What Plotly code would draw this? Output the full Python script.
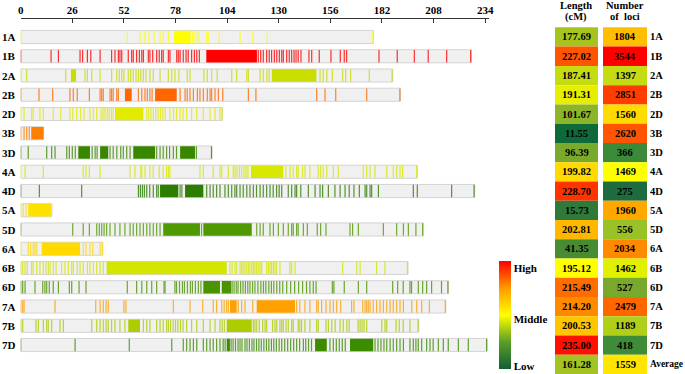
import plotly.graph_objects as go

# ---------------- data ----------------
chromosomes = ["1A", "1B", "2A", "2B", "2D", "3B", "3D", "4A", "4D", "5A",
               "5D", "6A", "6B", "6D", "7A", "7B", "7D"]
lengths_cM = [177.69, 227.02, 187.41, 191.31, 101.67, 11.55, 96.39, 199.82, 228.70,
              15.73, 202.81, 41.35, 195.12, 215.49, 214.20, 200.53, 235.00]
loci_counts = [1804, 3544, 1397, 2851, 1560, 2620, 366, 1469, 275, 1960, 556,
               2034, 1462, 527, 2479, 1189, 418]
average_length = 161.28
average_loci = 1559
x_ticks = [0, 26, 52, 78, 104, 130, 156, 182, 208, 234]

# individual loci positions (cM) and dense blocks (start, end) per chromosome
loci_1A = [0, 53.7, 60.1, 62.6, 64.6, 67.2, 70.2, 71.8, 74.4, 86.6, 87.8, 89, 89.8, 93.7,
           94.5, 100, 110.5, 117, 124.2, 177.4]
blocks_1A = [(77.3, 85.6)]
loci_1B = [0, 15.3, 19, 29.9, 31.2, 33.6, 35.3, 40, 45.8, 47.5, 49.2, 50, 50.9, 54.2, 55.9,
           56.7, 58.4, 59.8, 61, 61.8, 64.3, 65.1, 66.5, 68.5, 69.8, 71, 71.8, 74.4, 75.2,
           78.6, 79.4, 80.3, 81.9, 83.3, 84.4, 86.1, 87.5, 88.7, 90, 119.7, 120.9, 122.2,
           123.9, 125.2, 126.4, 127.8, 129, 130.3, 131.5, 132.3, 134, 135.3, 136.5, 137.7,
           138.7, 139.8, 141.2, 145.2, 146.6, 150.4, 156.3, 161, 163, 164.2, 180.5, 189.7,
           198.3, 205.3, 214.6, 226.7]
blocks_1B = [(93.5, 119)]
loci_2A = [0, 3, 22.7, 32.4, 33.6, 35.8, 40, 45.8, 48.4, 49.7, 50.9, 52, 54.2, 55.4, 56.7,
           58.1, 59.3, 60.5, 61.8, 63.1, 65.1, 66.8, 70.2, 74.4, 76.1, 77.7, 79.7, 83.9, 85.3,
           92.3, 94, 96.2, 99, 106.3, 108.8, 113.9, 114.7, 120.6, 122.2, 124, 125.2, 150.8,
           152.4, 154.2, 157, 162.2, 163.7, 166.2, 175.6, 187.1]
blocks_2A = [(25.3, 27.9), (126.5, 149)]
loci_2B = [0, 9.2, 16.1, 24.8, 26.5, 28.5, 34.6, 40, 40.8, 41.6, 45, 45.8, 46.6, 48.4, 49.2,
           59.3, 61, 62.6, 63.8, 65.1, 66.2, 80.3, 82.8, 83.9, 85.3, 87, 89, 90.3, 92, 94,
           95.4, 96.2, 97.9, 99.6, 101.8, 114.7, 118.5, 149.1, 153.3, 158.7, 174.3, 191]
blocks_2B = [(52.5, 55.9), (67.7, 78.6)]
loci_2D = [0, 1.7, 5.5, 6.3, 9.7, 11.4, 16.4, 20.2, 24.8, 26.2, 28.2, 30.2, 31.9, 34.9, 36.6,
           38.3, 40.5, 41.5, 42.5, 43.6, 44.6, 45.7, 46.6, 63.5, 64.5, 65.6, 66.8, 68, 69.2,
           70.4, 71.6, 72.8, 75.2, 77, 78.5, 80.3, 81.8, 83.6, 86.1, 88.7, 92, 95.4, 97.9,
           100.4, 101.4]
blocks_2D = [(47.5, 61.8)]
loci_3B = [0, 1.7, 3, 4.3]
blocks_3B = [(5.3, 11.55)]
loci_3D = [0, 3.8, 13.1, 15.6, 17.3, 23.2, 24.5, 26, 27.5, 36, 37.5, 38.5, 45, 46.6, 48.4,
           50.4, 51.7, 53.4, 55.1, 68.5, 70.2, 71.8, 73.5, 75, 76.9, 78.5, 88.5, 96.1]
blocks_3D = [(29, 34.9), (40, 44.1), (56.7, 67.7), (80.3, 87.8)]
loci_4A = [0, 2.2, 11.4, 31.5, 32.9, 34.6, 40, 55.1, 57.6, 60.5, 61, 62.6, 65.1, 66.8, 69.8,
           71.8, 73.5, 74.4, 75.2, 90.3, 92, 97, 100.4, 101.3, 104.6, 107.1, 108, 109, 110.2,
           111.3, 112.5, 113.5, 114.5, 133.6, 135.7, 137.3, 139, 139.8, 142, 143.2, 145.7,
           149.9, 151.1, 152.4, 154.2, 157.5, 160, 172.6, 174.3, 176, 178.5, 184.4, 187.7,
           189.4, 191.1, 192.4, 199.5]
blocks_4A = [(116, 132.3)]
loci_4D = [0, 9.4, 30.7, 59.3, 60.3, 61.3, 62.3, 63.5, 65, 66.8, 68.5, 69.3, 80.3, 81.2, 93.7,
           95.4, 97, 98.7, 100.4, 102.9, 104.6, 106.3, 107.9, 108.8, 110.5, 112.1, 113.9,
           115.5, 117.2, 118.8, 120.6, 122.2, 123.9, 125.6, 127.2, 128.9, 130.2, 131.5, 134.8,
           136.5, 138.2, 139, 141.1, 144.9, 148.3, 150.8, 152.1, 155, 158.3, 160.9, 163.4,
           165.5, 167.9, 170.6, 173.5, 174.3, 176, 176.8, 180.2, 197.8, 199.8, 217.1, 228.4]
blocks_4D = [(70.2, 79.4), (82.8, 92)]
loci_5A = [0, 1.3, 2.7]
blocks_5A = [(3.8, 15.4)]
loci_5D = [0, 26.2, 31.5, 34.6, 38.3, 39.6, 40.8, 42, 43.3, 45, 47.5, 50, 52.5, 55.1, 56.7,
           58.4, 60.1, 61.8, 63.5, 65.1, 66.8, 68.5, 70.2, 91.1, 118.9, 120.6, 122.2, 125.6,
           127.3, 129.8, 132.3, 134.8, 136.5, 137.3, 139, 139.8, 142.4, 144.4, 149.4, 151.1,
           153.8, 165.9, 167.2, 170.1, 182.7, 189.4, 192.8, 195.3, 199.1, 202.5]
blocks_5D = [(71.8, 90.3), (92, 116.4)]
loci_6A = [0, 3.8, 5, 6.3, 7.2, 8.1, 31.5, 32.9, 34.9, 36.3, 40, 41.1]
blocks_6A = [(10.6, 29.9)]
loci_6B = [0, 1, 2.2, 3.3, 5.5, 6.3, 8.1, 9.7, 11.4, 12.7, 13.9, 14.8, 16.4, 17.8, 20.6, 22.3,
           24, 25.7, 26.5, 28.5, 29.9, 31.5, 33.6, 34.9, 36.6, 38.3, 40, 41.6, 105.4, 106.5,
           107.9, 108.8, 110.5, 111.3, 112.1, 113, 113.9, 114.7, 115.5, 116.4, 117.2, 118,
           118.8, 119.7, 120.6, 121.4, 123.9, 124.8, 125.6, 126.4, 127.3, 128.1, 128.9,
           130.6, 135.6, 136.5, 138.2, 162.2, 169.3, 171, 179.3, 183.5, 194.8]
blocks_6B = [(43.3, 103.8)]
loci_6D = [0, 1, 2.2, 7.2, 11.1, 12.2, 13.1, 14.4, 16.4, 19, 24.5, 25.7, 29.4, 32.9, 53.7,
           58.4, 61, 63.5, 66, 68.5, 72.2, 72.7, 77.7, 78.5, 80, 81.5, 82.5, 84, 85.5, 86.5,
           88, 89.5, 90.8, 106.5, 107.5, 108.6, 109.5, 110.8, 112, 113.2, 114.4, 115.5, 116.8,
           118, 119.5, 121, 122.3, 123.5, 125, 126.3, 127.5, 129, 130.5, 132, 134, 136, 138,
           140, 142, 144, 145.7, 147.4, 148.8, 157, 157.8, 163, 170.1, 174.3, 187.4, 189.9,
           192.7, 196.1, 196.9, 200.3, 202.5, 204.5, 207, 212, 215.2]
blocks_6D = [(92, 100.4), (101.3, 106)]
loci_7A = [0, 1, 1.7, 17.3, 37.8, 40, 41.6, 43, 44.1, 52, 53, 76.9, 85.3, 91.7, 97, 98.7,
           101.3, 102.5, 103.7, 104.6, 109.6, 111.3, 113, 116.9, 139, 140.6, 143.2, 145.7,
           149.1, 149.9, 151.6, 153.8, 155.8, 157.5, 159.2, 161.2, 166.7, 167.9, 172.3, 173.5,
           174.3, 175.1, 176, 177.6, 179.3, 181, 182.7, 184.4, 186.1, 187.7, 189.4, 191.1,
           192.8, 197, 199.5, 202, 205.9, 213.9]
blocks_7A = [(105.4, 108.8), (118.9, 138.2)]
loci_7B = [0, 1, 7.7, 8.9, 11.4, 13.1, 13.9, 15.6, 19.8, 21.5, 35.8, 38.3, 40, 41.6, 43, 44.1,
           45.8, 47.5, 50, 52.5, 61.8, 63.5, 65.1, 68.5, 70.2, 71.8, 73.5, 74.4, 75.5, 76.8,
           78, 79.2, 80.5, 81.8, 83.6, 86.1, 88.7, 92, 95.4, 97.9, 100.4, 101.5, 102.6, 117.2,
           118, 118.9, 120.2, 121.9, 123.1, 123.9, 126.9, 128.1, 129, 130.6, 131.5, 132.3,
           133.7, 134.8, 136.5, 137.3, 139.8, 140.6, 141.5, 143.2, 145.7, 149.1, 149.9, 153.8,
           155, 156.7, 158.4, 160.9, 162.5, 164.3, 165.5, 170, 171, 172, 173, 174.3, 181.9,
           183.5, 184.4, 189.1, 190.7, 192.7, 196.1, 200.2]
blocks_7B = [(54.2, 60.1), (103.8, 116.4)]
loci_7D = [0, 27.4, 54.7, 76.1, 81.9, 83.6, 85.3, 87, 88.7, 92, 93.7, 95.4, 97, 98.7, 100.4,
           102, 103, 106, 107, 108.2, 109.5, 110.5, 111.5, 113, 114, 115.2, 116.5, 117.5,
           118.8, 120, 121.2, 122.5, 123.8, 125, 126.3, 127.5, 128.8, 130.2, 131.5, 133,
           134.5, 136, 137.5, 139, 140.5, 142.4, 143.6, 145, 146.5, 155.8, 157.5, 159, 160.5,
           162, 163.5, 178.5, 180, 181.5, 183, 184.4, 186.1, 187.7, 189.4, 191.1, 192.8, 196.1,
           197.8, 199.1, 200.3, 202, 204.5, 206.2, 207.8, 210.4, 212.9, 215.4, 220.5, 225.5,
           234.7]
blocks_7D = [(103.8, 105.4), (148.3, 154.2), (165.9, 177.6)]

loci_by_chrom = [loci_1A, loci_1B, loci_2A, loci_2B, loci_2D, loci_3B, loci_3D, loci_4A,
                 loci_4D, loci_5A, loci_5D, loci_6A, loci_6B, loci_6D, loci_7A, loci_7B, loci_7D]
blocks_by_chrom = [blocks_1A, blocks_1B, blocks_2A, blocks_2B, blocks_2D, blocks_3B,
                   blocks_3D, blocks_4A, blocks_4D, blocks_5A, blocks_5D, blocks_6A,
                   blocks_6B, blocks_6D, blocks_7A, blocks_7B, blocks_7D]

# ---------------- styles ----------------
chrom_colors = ["#ffff00", "#ff0000", "#cadd00", "#ff6600", "#e2eb00", "#ff8000",
                "#3a8800", "#d8e800", "#2e7d00", "#ffe100", "#4f9a00", "#ffd900",
                "#d4e600", "#4a9400", "#ffa000", "#b0cc00", "#3c8c00"]
length_cell_colors = ["#a5c41e", "#ff5500", "#c6dc12", "#e6ef00", "#8db52a", "#0f6a3a",
                      "#7aaa2c", "#ffd900", "#ff3300", "#2f7a3a", "#ffb800", "#478c33",
                      "#ffff00", "#ff6d00", "#ff8a00", "#ffc600", "#ff1000", "#a3c322"]
loci_cell_colors = ["#ffbf00", "#ff0000", "#c5dc14", "#ff3d00", "#ffdb00", "#ff5500",
                    "#3b8a3a", "#ffff00", "#1e6b40", "#ffa800", "#9ac126", "#ff8a00",
                    "#e1f000", "#78a92c", "#ff6600", "#b0cf18", "#3f8c38", "#ffe500"]
SERIF = "Liberation Serif"
W, H = 685, 374

fig = go.Figure()
rows = list(range(len(chromosomes)))

# chromosome backgrounds
fig.add_trace(go.Bar(orientation="h", y=rows, x=lengths_cM, base=[0] * len(rows),
                     width=0.68, marker=dict(color="#f0f0f0", line=dict(color="#d4d4d4", width=1)),
                     hoverinfo="skip", showlegend=False))
# dense blocks
for i, (blocks, col) in enumerate(zip(blocks_by_chrom, chrom_colors)):
    fig.add_trace(go.Bar(orientation="h", y=[i] * len(blocks),
                         x=[e - s for s, e in blocks], base=[s for s, e in blocks],
                         width=0.64, marker=dict(color=col, line=dict(width=0)),
                         hoverinfo="skip", showlegend=False))
# individual loci
for i, (loci, col) in enumerate(zip(loci_by_chrom, chrom_colors)):
    xs, ys = [], []
    for p in loci:
        xs += [p, p, None]
        ys += [i - 0.32, i + 0.32, None]
    fig.add_trace(go.Scatter(x=xs, y=ys, mode="lines", line=dict(color=col, width=1.2),
                             opacity=0.8, hoverinfo="skip", showlegend=False))

# table
table_rows = rows + [len(rows)]
len_vals = lengths_cM + [average_length]
loci_vals = loci_counts + [average_loci]
fig.add_trace(go.Bar(orientation="h", y=table_rows, x=[43] * len(table_rows), base=[0] * len(table_rows),
                     width=1.0, marker=dict(color=length_cell_colors, line=dict(width=0)),
                     xaxis="x2", yaxis="y", hoverinfo="skip", showlegend=False))
fig.add_trace(go.Bar(orientation="h", y=table_rows, x=[44] * len(table_rows), base=[48] * len(table_rows),
                     width=1.0, marker=dict(color=loci_cell_colors, line=dict(width=0)),
                     xaxis="x2", yaxis="y", hoverinfo="skip", showlegend=False))

# colour legend
fig.add_trace(go.Scatter(x=[-50], y=[-50], mode="markers",
                         marker=dict(color=[0.5], cmin=0, cmax=1, size=1,
                                     colorscale=[[0, "#115e37"], [0.25, "#5b9e25"], [0.5, "#ffff00"],
                                                 [0.75, "#ff9900"], [1, "#ff0000"]],
                                     showscale=True,
                                     colorbar=dict(x=499 / W, xanchor="left", y=1 - 261 / H, yanchor="top",
                                                   len=108, lenmode="pixels", thickness=12,
                                                   thicknessmode="pixels", outlinewidth=0, xpad=0, ypad=0,
                                                   tickvals=[0.935, 0.463, 0.028],
                                                   ticktext=["High", "Middle", "Low"], ticks="",
                                                   tickfont=dict(family=SERIF, size=11, color="black",
                                                                 weight="bold"))),
                         hoverinfo="skip", showlegend=False))

annotations = []
bold = dict(family=SERIF, size=11, color="black", weight="bold")
for i, name in enumerate(chromosomes):
    annotations.append(dict(x=0.0, xref="paper", y=i, yref="y", text=name, showarrow=False,
                            xanchor="left", font=bold))
right_labels = chromosomes + ["Average"]
for i, name in enumerate(right_labels):
    size = 9.5 if name == "Average" else 10.5
    annotations.append(dict(x=648 / W, xref="paper", y=i, yref="y", text=name, showarrow=False,
                            xanchor="left", font=dict(family=SERIF, size=size, color="black",
                                                      weight="bold")))
for i, (lv, nv) in enumerate(zip(len_vals, loci_vals)):
    annotations.append(dict(x=21.5, xref="x2", y=i, yref="y", text=f"{lv:.2f}", showarrow=False,
                            font=dict(family=SERIF, size=10.5, color="black", weight="bold")))
    annotations.append(dict(x=70, xref="x2", y=i, yref="y", text=f"{nv}", showarrow=False,
                            font=dict(family=SERIF, size=10.5, color="black", weight="bold")))
for txt, cx, cy in [("Length", 576, 5), ("(cM)", 576, 17), ("Number", 625, 5), ("of  loci", 625, 17)]:
    annotations.append(dict(x=cx / W, xref="paper", y=1 - cy / H, yref="paper", text=txt,
                            showarrow=False, xanchor="center", yanchor="middle",
                            font=dict(family=SERIF, size=10.5, color="black", weight="bold")))

fig.update_layout(
    width=W, height=H, margin=dict(l=0, r=0, t=0, b=0, autoexpand=False),
    paper_bgcolor="white", plot_bgcolor="white", barmode="overlay",
    annotations=annotations,
    xaxis=dict(domain=[20.7 / W, (20.7 + 235.8 * 1.985) / W], range=[0, 235.8], side="top",
               tickvals=x_ticks, ticks="inside", ticklen=4, tickcolor="#333",
               showline=True, linecolor="#333", linewidth=1, showgrid=False, zeroline=False,
               automargin=False,
               tickfont=dict(family=SERIF, size=11, color="black", weight="bold"), anchor="y"),
    xaxis2=dict(domain=[555 / W, 647 / W], range=[0, 92], visible=False, anchor="y",
                automargin=False),
    yaxis=dict(domain=[0, 1 - 19 / H], range=[17.506, -0.935], visible=False, automargin=False),
)

fig.write_html("out.html", config={"displayModeBar": False},
               post_script="document.body.style.margin='0';document.body.style.overflow='hidden';")
